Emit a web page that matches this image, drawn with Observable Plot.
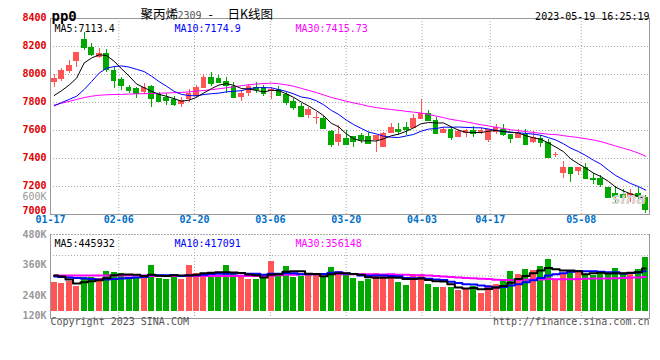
<!DOCTYPE html>
<html><head><meta charset="utf-8">
<script src="https://cdn.jsdelivr.net/npm/d3@7"></script>
<script src="https://cdn.jsdelivr.net/npm/@observablehq/plot@0.6"></script>
<style>
body{margin:0;background:#fff;}
#wrap{position:relative;width:660px;height:360px;overflow:hidden;background:#fff;}
#wrap svg{position:absolute;left:0;}
</style></head><body><div id="wrap"></div>
<script>
const dates = ["01-17","01-18","01-19","01-20","01-30","01-31",
"02-01","02-02","02-03","02-06","02-07","02-08","02-09","02-10","02-13","02-14","02-15","02-16","02-17","02-20","02-21","02-22","02-23","02-24","02-27","02-28",
"03-01","03-02","03-03","03-06","03-07","03-08","03-09","03-10","03-13","03-14","03-15","03-16","03-17","03-20","03-21","03-22","03-23","03-24","03-27","03-28","03-29","03-30","03-31",
"04-03","04-04","04-06","04-07","04-10","04-11","04-12","04-13","04-14","04-17","04-18","04-19","04-20","04-21","04-24","04-25","04-26","04-27","04-28",
"05-04","05-05","05-08","05-09","05-10","05-11","05-12","05-15","05-16","05-17","05-18","05-19"];
const xTickLabels = ["01-17","02-06","02-20","03-06","03-20","04-03","04-17","05-08"];
const priceTicks = [7000,7200,7400,7600,7800,8000,8200,8400];
const open = [7943,7962,8024,8093,8248,8195,8119,8148,8032,7961,
7909,7898,7874,7914,7857,7834,7821,7786,7819,7845,
7900,7976,7971,7948,7914,7838,7866,7905,7905,7881,
7891,7857,7805,7771,7705,7686,7686,7595,7516,7543,
7557,7566,7557,7529,7481,7576,7607,7624,7614,7681,
7719,7671,7581,7605,7552,7581,7600,7586,7529,7586,
7605,7571,7543,7571,7516,7541,7516,7424,7295,7338,
7307,7333,7257,7255,7195,7148,7143,7119,7152,7124];
const high = [8000,8045,8100,8159,8302,8219,8184,8176,8052,7979,
7921,7905,7938,7919,7871,7862,7843,7838,7891,7925,
8000,8014,7995,7976,7943,7886,7929,7943,7919,7909,
7914,7871,7829,7791,7766,7729,7702,7600,7634,7600,
7557,7576,7588,7562,7588,7652,7648,7657,7714,7824,
7743,7695,7619,7624,7605,7605,7629,7619,7605,7643,
7643,7571,7605,7605,7595,7564,7534,7445,7379,7338,
7338,7362,7291,7279,7195,7200,7176,7181,7195,7136];
const low = [7909,7950,8005,8052,8171,8129,8112,8016,7900,7886,
7866,7826,7857,7762,7800,7779,7771,7762,7802,7836,
7900,7914,7934,7866,7838,7809,7843,7862,7843,7819,
7852,7781,7743,7700,7686,7643,7614,7481,7486,7500,
7476,7505,7505,7445,7481,7576,7566,7566,7614,7681,
7671,7576,7576,7529,7548,7552,7548,7571,7516,7571,
7557,7505,7543,7500,7505,7481,7402,7409,7259,7231,
7276,7255,7214,7195,7124,7088,7095,7088,7095,7005];
const close = [7969,8029,8064,8157,8195,8143,8148,8034,7957,7918,
7886,7866,7905,7826,7807,7814,7786,7814,7866,7905,
7976,7934,7943,7919,7838,7866,7914,7895,7866,7895,
7852,7800,7766,7700,7752,7693,7614,7500,7571,7500,
7521,7534,7509,7562,7581,7624,7595,7609,7686,7724,
7671,7581,7609,7552,7595,7600,7576,7600,7605,7619,
7571,7543,7576,7500,7552,7516,7409,7429,7338,7295,
7338,7255,7252,7214,7124,7129,7119,7148,7129,7034];
const ma5 = [7850,7885,7925,7975,8083,8118,8141,8135,8095,8040,
7989,7932,7906,7880,7858,7844,7828,7809,7817,7837,
7869,7899,7925,7935,7922,7900,7896,7886,7876,7887,
7884,7862,7836,7803,7774,7742,7705,7652,7626,7576,
7541,7525,7527,7525,7541,7562,7574,7594,7619,7648,
7657,7654,7654,7627,7602,7587,7586,7585,7595,7600,
7594,7588,7583,7562,7548,7537,7511,7481,7449,7397,
7362,7331,7296,7271,7237,7195,7168,7147,7130,7112];
const ma10 = [7776,7800,7822,7845,7893,7950,8010,8045,8057,8061,
8053,8037,8021,7988,7949,7916,7880,7858,7849,7848,
7857,7863,7867,7876,7880,7885,7898,7906,7906,7905,
7892,7879,7861,7839,7831,7813,7783,7744,7714,7675,
7642,7615,7589,7576,7559,7552,7550,7561,7572,7595,
7610,7614,7624,7623,7625,7622,7620,7619,7611,7601,
7591,7587,7584,7579,7574,7566,7549,7532,7505,7473,
7450,7421,7388,7360,7317,7278,7249,7221,7200,7174];
const ma30 = [7782,7795,7808,7822,7835,7845,7852,7855,7857,7858,
7860,7862,7863,7864,7866,7868,7870,7872,7876,7881,
7886,7892,7898,7905,7912,7920,7927,7932,7936,7938,
7934,7926,7916,7901,7886,7871,7854,7836,7823,7809,
7797,7786,7773,7764,7756,7750,7744,7737,7731,7725,
7715,7703,7692,7679,7671,7662,7651,7641,7633,7623,
7614,7605,7599,7592,7586,7580,7573,7571,7563,7556,
7550,7541,7532,7521,7505,7489,7473,7458,7439,7416];
// volume, in thousands (as read against the panel's grid)
const vol = [203,195,207,179,230,230,226,266,262,254,
230,223,226,301,226,218,246,218,301,254,
254,262,238,301,246,238,218,218,230,325,
254,295,230,238,246,246,230,289,266,242,
226,207,218,254,238,234,203,183,250,250,
191,171,171,171,155,164,179,136,183,191,
218,266,248,277,273,295,337,211,246,266,
273,250,242,258,246,285,250,254,277,348];
const vma5 = [242,236,218,195,203,208,214,226,243,248,
248,247,239,247,241,239,243,242,242,247,
255,258,262,262,260,257,248,244,230,246,
249,264,267,268,253,251,238,250,255,255,
251,246,232,229,229,230,229,222,222,224,
215,209,207,191,172,166,168,161,163,171,
181,199,221,240,256,272,286,279,272,271,
267,249,255,258,254,256,256,259,262,283];
const vma10 = [236,233,230,227,224,221,218,218,221,225,
228,231,233,245,244,243,245,240,244,244,
247,251,252,252,254,256,253,253,246,253,
253,256,256,249,249,250,251,258,262,254,
251,242,241,242,242,240,238,227,226,226,
223,219,215,206,198,191,189,184,177,171,
174,183,191,202,214,227,242,250,256,264,
269,268,267,265,262,261,253,257,260,268];
const vma30 = [242,242,242,242,242,242,242,242,242,242,
242,242,242,240,240,240,240,240,240,240,
240,240,240,240,240,240,240,240,240,241,
243,246,247,249,249,250,250,251,251,250,
250,250,249,248,248,249,247,246,244,244,
242,239,237,233,230,227,226,223,222,217,
216,215,216,217,218,219,223,220,220,220,
222,223,224,224,225,226,228,230,231,234];
const volGrid = [120,240,360];
const volTickLabels = ["480K","360K","240K","120K"];
const priceLegend = ["MA5:7113.4","MA10:7174.9","MA30:7415.73"];
const volLegend = ["MA5:445932","MA10:417091","MA30:356148"];
const legendColors = ["#000000","#0000ff","#ff00ff"];

const N = dates.length;
const RED = "#ff5555", GREEN = "#00a800";
const rows = dates.map((d,i)=>({i, date:d, open:open[i], high:high[i], low:low[i], close:close[i],
  vol:vol[i], ma5:ma5[i], ma10:ma10[i], ma30:ma30[i], vma5:vma5[i], vma10:vma10[i], vma30:vma30[i],
  color: close[i] >= open[i] ? RED : GREEN}));
// date grid lines are spaced over N-1 intervals across the panel
const gridX = xTickLabels.map(l => dates.indexOf(l) * N/(N-1) - 0.5);
const dotted = {stroke:"#aaa", strokeDasharray:"1,2"};
const MONO = "'DejaVu Sans Mono', monospace";
const CJK = "'Noto Sans CJK SC', sans-serif";
const legendDx = [4, 124, 245];
const volLabelDy = [-4, 26, 57, 77];

const main = Plot.plot({
  width:660, height:230, marginTop:18, marginBottom:16, marginLeft:50, marginRight:11,
  style:{background:"transparent", fontFamily:MONO, fontSize:"10px", overflow:"visible"},
  x:{domain:[-0.5, N-0.5], axis:null},
  y:{domain:[7000, 8400], axis:null},
  marks:[
    Plot.ruleY(priceTicks.slice(1,-1), dotted),
    Plot.ruleX(gridX.slice(1), dotted),
    Plot.frame({stroke:"#999"}),
    Plot.ruleX(rows, {x:"i", y1:"low", y2:"high", stroke:"color", shapeRendering:"crispEdges"}),
    Plot.rect(rows, {x1:d=>d.i-0.38, x2:d=>d.i+0.38, y1:"open", y2:"close", fill:"color", shapeRendering:"crispEdges"}),
    Plot.ruleY(rows, {y:"close", x1:d=>d.i-0.38, x2:d=>d.i+0.38, stroke:"color", shapeRendering:"crispEdges"}),
    Plot.line(rows, {x:"i", y:"ma30", stroke:"#ff00ff", strokeWidth:1}),
    Plot.line(rows, {x:"i", y:"ma10", stroke:"#0000ff", strokeWidth:1}),
    Plot.line(rows, {x:"i", y:"ma5", stroke:"#000", strokeWidth:1}),
    Plot.text(priceTicks.slice(1), {y:d=>d, text:d=>String(d), frameAnchor:"left", textAnchor:"end", dx:-4, dy:-1, fill:"#e00000", fontSize:10, fontWeight:"bold"}),
    Plot.text(priceTicks.slice(0,1), {y:d=>d, text:d=>String(d), frameAnchor:"left", textAnchor:"end", dx:-4, dy:-3.5, fill:"#e00000", fontSize:10, fontWeight:"bold"}),
    Plot.text(xTickLabels, {x:(d,i)=>gridX[i], frameAnchor:"bottom", dy:8.5, fill:"#0070c8", fontSize:10, fontWeight:"bold"}),
    Plot.text(["600K"], {frameAnchor:"bottom-left", textAnchor:"end", dx:-4, dy:-14.5, fill:"#999", fontSize:10}),
    ...priceLegend.map((t,k)=>Plot.text([t], {frameAnchor:"top-left", textAnchor:"start", dx:legendDx[k], dy:6, fill:legendColors[k], fontSize:10})),
    Plot.text(["pp0"], {frameAnchor:"top-left", textAnchor:"start", dx:1, dy:-7, fontWeight:"bold", fontSize:14, letterSpacing:"2.5px", fill:"#000"}),
    Plot.text(["聚丙烯"], {frameAnchor:"top-left", textAnchor:"start", dx:90, dy:-8, fontFamily:CJK, fontSize:12.5, fill:"#000"}),
    Plot.text(["2309"], {frameAnchor:"top-left", textAnchor:"start", dx:127, dy:-7, fontSize:10, fill:"#555"}),
    Plot.text(["-"], {frameAnchor:"top-left", textAnchor:"start", dx:158, dy:-8, fontFamily:CJK, fontSize:12.5, fill:"#000"}),
    Plot.text(["日K线图"], {frameAnchor:"top-left", textAnchor:"start", dx:177, dy:-8, fontFamily:CJK, fontSize:12.5, fill:"#000"}),
    Plot.text(["2023-05-19 16:25:19"], {frameAnchor:"top-right", textAnchor:"end", dy:-5.5, fontSize:10, fill:"#000"}),
    Plot.text(["sina"], {frameAnchor:"bottom-right", textAnchor:"end", dx:-3, dy:-11, fontFamily:"'DejaVu Sans', sans-serif", fontStyle:"italic", fontWeight:"bold", fontSize:15, fill:"#d8d0d0"})
  ]
});

const volPlot = Plot.plot({
  width:660, height:134, marginTop:8, marginBottom:42, marginLeft:50, marginRight:11,
  style:{background:"transparent", fontFamily:MONO, fontSize:"10px", overflow:"visible"},
  x:{domain:[-0.5, N-0.5], axis:null},
  y:{domain:[30, 480], range:[85, 8.67], clamp:true, axis:null},
  marks:[
    Plot.ruleY(volGrid, dotted),
    Plot.ruleX(gridX.slice(1), dotted),
    Plot.frame({anchor:"top", ...dotted}),
    Plot.frame({anchor:"left", stroke:"#999"}),
    Plot.frame({anchor:"right", stroke:"#999"}),
    Plot.frame({anchor:"bottom", stroke:"#999"}),
    Plot.rectY(rows, {x1:d=>d.i-0.4, x2:d=>d.i+0.4, y:"vol", fill:"color", shapeRendering:"crispEdges"}),
    Plot.line(rows, {x:"i", y:"vma30", stroke:"#ff00ff", strokeWidth:2, curve:"step"}),
    Plot.line(rows, {x:"i", y:"vma10", stroke:"#0000ff", strokeWidth:2, curve:"step"}),
    Plot.line(rows, {x:"i", y:"vma5", stroke:"#000", strokeWidth:2, curve:"step"}),
    ...volTickLabels.map((t,k)=>Plot.text([t], {frameAnchor:"top-left", textAnchor:"end", dx:-4, dy:volLabelDy[k], fill:"#999", fontSize:10, fontWeight:"bold"})),
    ...volLegend.map((t,k)=>Plot.text([t], {frameAnchor:"top-left", textAnchor:"start", dx:legendDx[k], dy:5, fill:legendColors[k], fontSize:10})),
    Plot.text(["Copyright 2023 SINA.COM"], {frameAnchor:"bottom-left", textAnchor:"start", dy:6.5, fill:"#555", fontSize:10}),
    Plot.text(["http://finance.sina.com.cn"], {frameAnchor:"bottom-right", textAnchor:"end", dy:6, fill:"#555", fontSize:10})
  ]
});

const wrap = document.getElementById("wrap");
main.style.top = "0px";
volPlot.style.top = "226px";
wrap.appendChild(main);
wrap.appendChild(volPlot);
</script></body></html>
